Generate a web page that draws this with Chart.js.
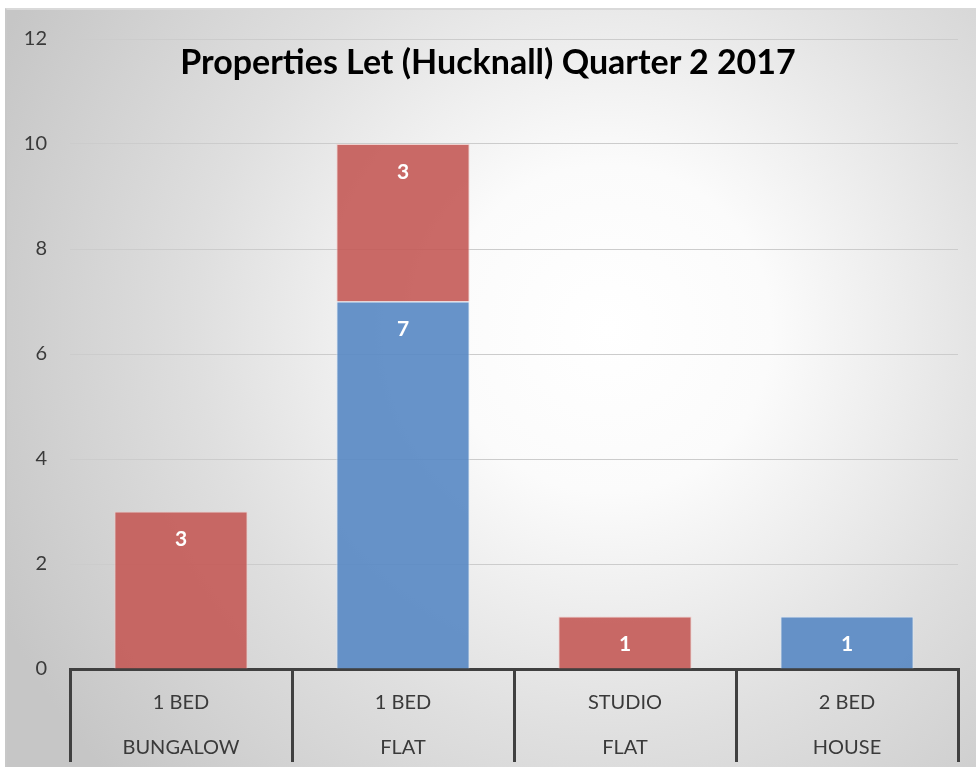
<!DOCTYPE html>
<html>
<head>
<meta charset="utf-8">
<script src="https://cdn.jsdelivr.net/npm/chart.js@4/dist/chart.umd.min.js"></script>
<style>
  html, body { margin: 0; padding: 0; background: #ffffff; }
  #frame {
    position: absolute; left: 5px; top: 8px; width: 969px; height: 759px;
    border-top: 2px solid #d9d9d9; border-left: 2px solid #c8c8c8;
    background: radial-gradient(circle at 62% 42%, #ffffff 0%, #fbfbfb 22%, #dfdfdf 55%, #c6c6c6 90%);
  }
  #wrap { position: absolute; left: 0; top: 0; width: 976px; height: 767px; }
  #title {
    position: absolute; left: 0; top: 40px; width: 976px; text-align: center;
    font-family: Lato, "Open Sans", sans-serif; font-weight: bold; font-size: 34px;
    color: #000000; pointer-events: none;
  }
</style>
</head>
<body>
<div id="frame"></div>
<div id="wrap"><canvas id="chart" width="976" height="767"></canvas></div>
<div id="title">Properties Let (Hucknall) Quarter 2 2017</div>
<script>
const categories = [["1 BED", "BUNGALOW"], ["1 BED", "FLAT"], ["STUDIO", "FLAT"], ["2 BED", "HOUSE"]];
const blueValues = [0, 7, 0, 1];
const redValues = [3, 3, 1, 0];
const yTicks = [0, 2, 4, 6, 8, 10, 12];

// white numbers near the top of each bar segment
const barLabels = {
  id: "barLabels",
  afterDatasetsDraw(chart) {
    const ctx = chart.ctx;
    ctx.save();
    ctx.fillStyle = "#ffffff";
    ctx.font = "bold 21px Lato, sans-serif";
    ctx.textAlign = "center";
    ctx.textBaseline = "middle";
    chart.data.datasets.forEach((ds, i) => {
      chart.getDatasetMeta(i).data.forEach((bar, j) => {
        const v = ds.data[j];
        if (!v) return;
        ctx.fillText(String(v), bar.x, bar.y + 28);
      });
    });
    ctx.restore();
  }
};

new Chart(document.getElementById("chart"), {
  type: "bar",
  data: {
    labels: categories,
    datasets: [
      {
        label: "Blue",
        data: blueValues,
        backgroundColor: "rgba(90,138,196,0.92)",
        borderColor: "rgba(220,232,245,0.9)",
        borderWidth: 1
      },
      {
        label: "Red",
        data: redValues,
        backgroundColor: "rgba(196,90,86,0.9)",
        borderColor: "rgba(240,205,203,0.9)",
        borderWidth: 1
      }
    ]
  },
  options: {
    responsive: false,
    animation: false,
    layout: { padding: { left: 0, right: 18, top: 39, bottom: 0 } },
    categoryPercentage: 1,
    barPercentage: 0.6,
    plugins: {
      legend: { display: false },
      tooltip: { enabled: false }
    },
    scales: {
      x: {
        stacked: true,
        afterFit(scale) { scale.height = 98; },
        border: { display: true, color: "#404040", width: 3 },
        grid: {
          display: true,
          drawOnChartArea: false,
          drawTicks: true,
          tickLength: 93,
          color: "#404040",
          lineWidth: 3
        },
        ticks: {
          color: "#3a3a3a",
          padding: -82,
          font: { family: "Lato, sans-serif", size: 20, lineHeight: 2.25 }
        }
      },
      y: {
        stacked: true,
        min: 0,
        max: 12,
        afterFit(scale) { scale.width = 70; },
        afterBuildTicks(scale) { scale.ticks = yTicks.map(v => ({ value: v })); },
        border: { display: false },
        grid: { color: "#cccccc", lineWidth: 1, drawTicks: false },
        ticks: {
          color: "#3a3a3a",
          padding: 23,
          font: { family: "Lato, sans-serif", size: 20 }
        }
      }
    }
  },
  plugins: [barLabels]
});
</script>
</body>
</html>
